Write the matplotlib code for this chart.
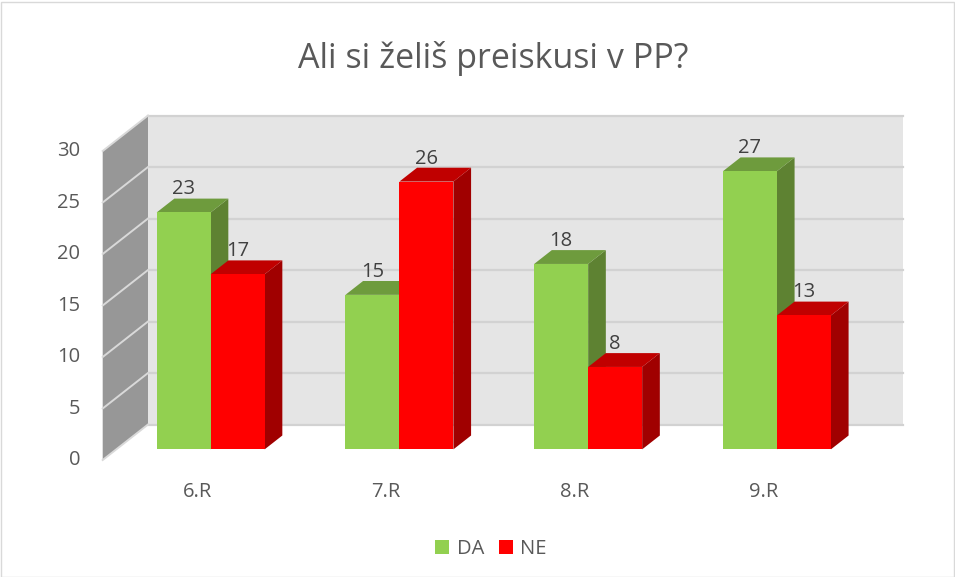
import matplotlib.pyplot as plt
from matplotlib.patches import Polygon, Patch, Rectangle
import numpy as np

categories = ['6.R', '7.R', '8.R', '9.R']
da_values = [23, 15, 18, 27]
ne_values = [17, 26, 8, 13]
series_names = ['DA', 'NE']
y_ticks = [0, 5, 10, 15, 20, 25, 30]
title = 'Ali si želiš preiskusi v PP?'

W, H = 955, 577
FONT = 'Open Sans'
TXT = '#595959'
FS = 14.5

# pixel -> data helpers (front plane: value 0 at y=460px, 30 at y=151px)
def px_x(px):
    return (px - 102.7) * 4 / 755

def px_y(py):
    return (460 - py) * 30 / 309

DX = px_x(148) - px_x(102.7)      # depth shift along x
DY = 35.5 * 30 / 309               # depth shift along y
D0, D1 = 0.30, 0.69                # bar depth range
BW = 54 * 4 / 755                  # bar width

fig = plt.figure(figsize=(W / 100, H / 100), dpi=100)
ax = fig.add_axes([0, 0, 1, 1])
ax.set_xlim(px_x(0), px_x(W))
ax.set_ylim(px_y(H), px_y(0))
ax.axis('off')

ymax = y_ticks[-1]
ncat = len(categories)

# back wall
ax.add_patch(Polygon([(DX, DY), (ncat + DX, DY), (ncat + DX, ymax + DY), (DX, ymax + DY)],
                     closed=True, facecolor='#e5e5e5', edgecolor='none', zorder=1))
for v in y_ticks:
    ax.plot([DX, ncat + DX], [v + DY, v + DY], color='#d2d2d2', lw=1.6, zorder=2)

# side wall
ax.add_patch(Polygon([(0, 0), (DX, DY), (DX, ymax + DY), (0, ymax)],
                     closed=True, facecolor='#979797', edgecolor='none', zorder=2))
for v in y_ticks:
    ax.plot([0, DX], [v, v + DY], color='#d9d9d9', lw=1.4, zorder=3)

colors = {
    'DA': ('#92d050', '#6e9b3d', '#5e8232'),
    'NE': ('#ff0000', '#c00000', '#a00000'),
}

def draw_bar(x0, v, cols, z):
    front, top, side = cols
    x1 = x0 + BW
    sx0, sy0 = D0 * DX, D0 * DY
    sx1, sy1 = D1 * DX, D1 * DY
    ax.add_patch(Polygon([(x1 + sx0, sy0), (x1 + sx1, sy1), (x1 + sx1, v + sy1), (x1 + sx0, v + sy0)],
                         closed=True, facecolor=side, edgecolor='none', zorder=z))
    ax.add_patch(Polygon([(x0 + sx0, v + sy0), (x1 + sx0, v + sy0), (x1 + sx1, v + sy1), (x0 + sx1, v + sy1)],
                         closed=True, facecolor=top, edgecolor='none', zorder=z))
    ax.add_patch(Polygon([(x0 + sx0, sy0), (x1 + sx0, sy0), (x1 + sx0, v + sy0), (x0 + sx0, v + sy0)],
                         closed=True, facecolor=front, edgecolor='none', zorder=z))
    ax.annotate(str(v), xy=((x0 + x1) / 2 + sx0, v + sy1), xytext=(0, 3),
                textcoords='offset points', ha='center', va='baseline',
                fontsize=FS, color='#404040', family=FONT, zorder=z + 1)

for i, cat in enumerate(categories):
    c = i + 0.5
    draw_bar(c - BW, da_values[i], colors['DA'], 5 + 2 * i)
    draw_bar(c, ne_values[i], colors['NE'], 6 + 2 * i)
    ax.text(c, px_y(492), cat, ha='center', va='center',
            fontsize=FS, color=TXT, family=FONT)

for v in y_ticks:
    ax.text(px_x(80), v, str(v), ha='right', va='center', fontsize=FS, color=TXT, family=FONT)

fig.text(493 / W, 1 - 58 / H, title, ha='center', va='center', fontsize=24.5, color=TXT, family=FONT)

handles = [Patch(facecolor=colors[n][0], edgecolor='none', label=n) for n in series_names]
fig.legend(handles=handles, loc='center', bbox_to_anchor=(491 / W, 1 - 549 / H), ncol=2,
           frameon=False, handlelength=0.7, handleheight=0.7, handletextpad=0.35,
           columnspacing=0.75, prop={'family': FONT, 'size': FS}, labelcolor=TXT)

fig.add_artist(Rectangle((0.5 / W, 0.5 / H), (W - 2) / W, (H - 2) / H, transform=fig.transFigure,
                         fill=False, edgecolor='#d9d9d9', lw=1))

fig.savefig('out.png', dpi=100)
